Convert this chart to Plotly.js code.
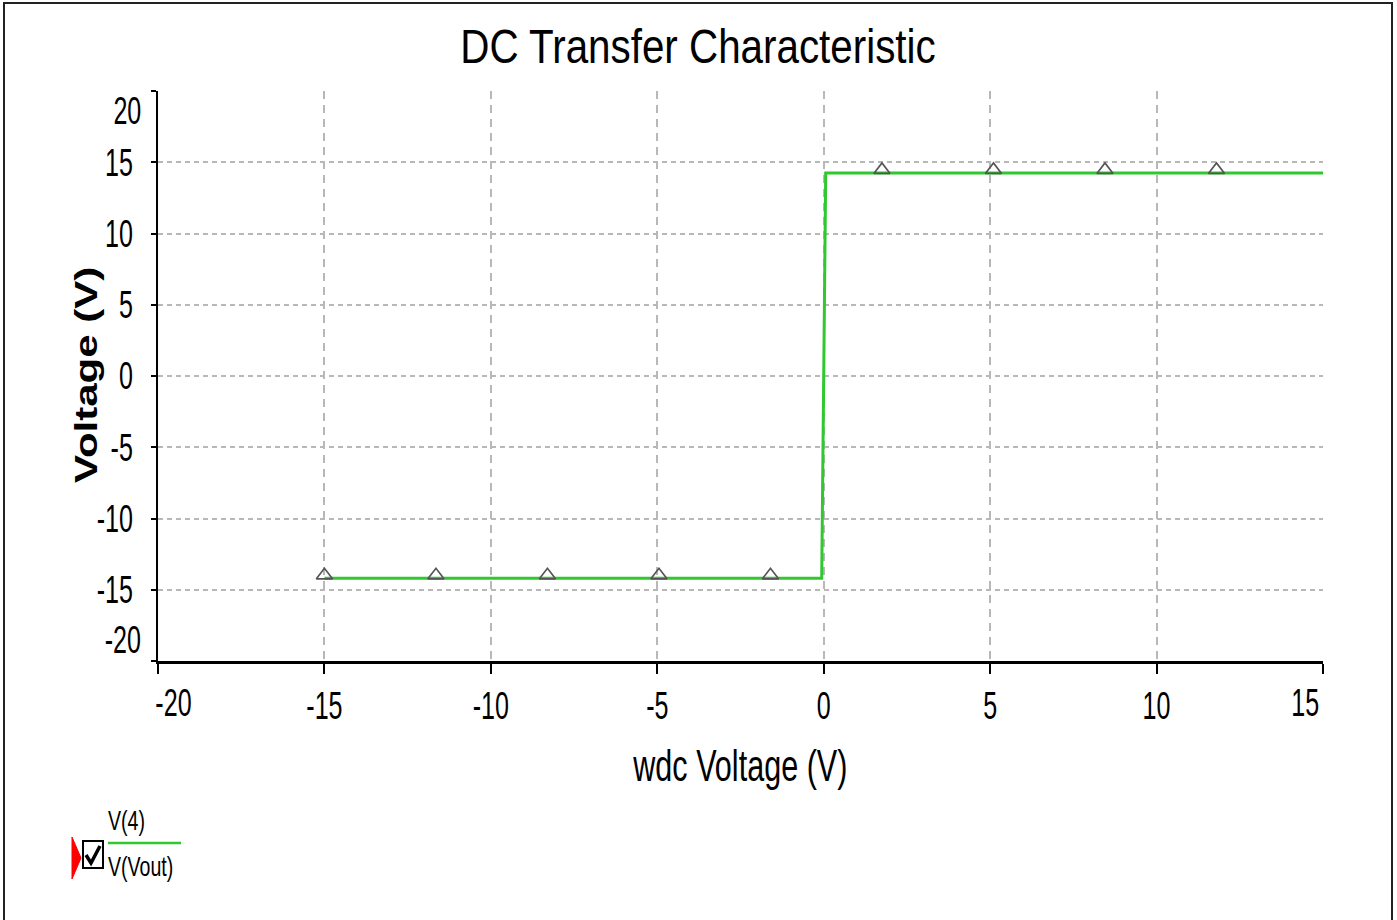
<!DOCTYPE html>
<html>
<head>
<meta charset="utf-8">
<script src="https://cdn.plot.ly/plotly-3.0.1.min.js"></script>
<style>html,body{margin:0;padding:0;background:#fff;}#chart{width:1397px;height:920px;}</style>
</head>
<body>
<div id="chart"></div>
<script>
// ---- data ----
const curveX = [-15, -0.06, 0.06, 15];
const curveY = [-14.2, -14.2, 14.25, 14.25];
const markerX = [-15, -11.65, -8.3, -4.95, -1.6, 1.75, 5.1, 8.45, 11.8];
const markerY = [-14.2, -14.2, -14.2, -14.2, -14.2, 14.25, 14.25, 14.25, 14.25];
const xTicks = [-20, -15, -10, -5, 0, 5, 10, 15];
const yTicks = [-20, -15, -10, -5, 0, 5, 10, 15, 20];
const legendTop = 'V(4)';
const legendBottom = 'V(Vout)';

const FONT = '"Liberation Sans", Arial, sans-serif';
const W = 1397, H = 920;
const L = 158, R = 1323, T = 91, B = 661;
const px = x => (x - L) / (R - L);
const py = y => (B - y) / (B - T);
const TICK = 38, TICKSQ = 0.66;

const xText = xTicks.map(v => (v === xTicks[0] || v === xTicks[xTicks.length-1]) ? '' : String(v));
const yText = yTicks.map(v => (v === yTicks[0] || v === yTicks[yTicks.length-1]) ? '' : String(v));

const traces = [
  {x: curveX, y: curveY, type: 'scatter', mode: 'lines',
   line: {color: '#2fc82f', width: 3}, hoverinfo: 'skip', showlegend: false},
  {x: markerX, y: markerY, type: 'scatter', mode: 'markers',
   marker: {symbol: 'triangle-down-open', angle: 180, standoff: 3, size: 14, color: '#555', line: {width: 1.7, color: '#555'}},
   hoverinfo: 'skip', showlegend: false}
];

const tf = {family: FONT, size: TICK, color: '#000'};
const annotations = [
  {xref: 'x', yref: 'paper', x: xTicks[0], y: 0, xshift: 15, yshift: -42, text: String(xTicks[0]), showarrow: false, font: tf, yanchor: 'middle'},
  {xref: 'x', yref: 'paper', x: xTicks[xTicks.length-1], y: 0, xshift: -18, yshift: -42, text: String(xTicks[xTicks.length-1]), showarrow: false, font: tf, yanchor: 'middle'},
  {xref: 'paper', yref: 'y', x: 0, y: yTicks[yTicks.length-1], xshift: -15, yshift: -20, text: String(yTicks[yTicks.length-1]), showarrow: false, font: tf, xanchor: 'right', align: 'right'},
  {xref: 'paper', yref: 'y', x: 0, y: yTicks[0], xshift: -15, yshift: 21, text: String(yTicks[0]), showarrow: false, font: tf, xanchor: 'right', align: 'right'},
  {xref: 'paper', yref: 'paper', x: px(106), y: py(820), text: legendTop, showarrow: false, xanchor: 'left', yanchor: 'middle', align: 'left', font: {family: FONT, size: 28, color: '#000'}},
  {xref: 'paper', yref: 'paper', x: px(106), y: py(866), text: legendBottom, showarrow: false, xanchor: 'left', yanchor: 'middle', align: 'left', font: {family: FONT, size: 28, color: '#000'}},
  {xref: 'paper', yref: 'paper', x: px(86), y: py(375), text: '<b>Voltage (V)</b>', textangle: -90, showarrow: false, xanchor: 'center', yanchor: 'middle', font: {family: FONT, size: 42, color: '#000'}}
];
// per-annotation horizontal/vertical squeeze (text-local)
const annSqueeze = [[TICKSQ,1],[TICKSQ,1],[TICKSQ,1],[TICKSQ,1],[0.7,1],[0.7,1],[1,0.75]];

const shapes = [
  {type: 'path', xref: 'paper', yref: 'paper',
   path: `M ${px(4)} ${py(930)} L ${px(4)} ${py(3)} L ${px(1392)} ${py(3)} L ${px(1392)} ${py(930)}`,
   line: {color: '#222', width: 2}},
  {type: 'path', xref: 'paper', yref: 'paper',
   path: `M ${px(72)} ${py(837)} L ${px(81)} ${py(858)} L ${px(72)} ${py(879)} Z`,
   fillcolor: '#ff0000', line: {color: '#ff0000', width: 1}},
  {type: 'rect', xref: 'paper', yref: 'paper', x0: px(83), x1: px(103), y0: py(841), y1: py(868),
   fillcolor: '#fff', line: {color: '#000', width: 2}},
  {type: 'path', xref: 'paper', yref: 'paper',
   path: `M ${px(86)} ${py(855)} L ${px(91)} ${py(863)} L ${px(100)} ${py(846)}`,
   line: {color: '#000', width: 3.5}},
  {type: 'line', xref: 'paper', yref: 'paper', x0: px(108), x1: px(181), y0: py(843), y1: py(843),
   line: {color: '#2fc82f', width: 2.5}}
];

const layout = {
  width: W, height: H,
  paper_bgcolor: '#fff', plot_bgcolor: '#fff',
  margin: {l: L, r: W - R, t: T, b: H - B, pad: 0},
  title: {text: 'DC Transfer Characteristic', font: {family: FONT, size: 49, color: '#000'},
          xref: 'paper', x: px(698), xanchor: 'center', yref: 'container', y: 1 - 46/920, yanchor: 'middle'},
  xaxis: {range: [-20, 15], tickvals: xTicks, ticktext: xText,
          showgrid: true, gridcolor: '#b8b8b8', gridwidth: 2, griddash: '8px,6px',
          zeroline: false, showline: true, linecolor: '#000', linewidth: 2.5,
          ticks: 'outside', ticklen: 10, tickwidth: 2, tickcolor: '#000',
          tickfont: tf, ticklabelstandoff: 0,
          title: {text: 'wdc Voltage (V)', font: {family: FONT, size: 44, color: '#000'}, standoff: 24},
          fixedrange: true},
  yaxis: {range: [-20, 20], tickvals: yTicks, ticktext: yText,
          showgrid: true, gridcolor: '#b8b8b8', gridwidth: 2, griddash: '5px,4px',
          zeroline: false, showline: true, linecolor: '#000', linewidth: 2.5,
          ticks: 'outside', ticklen: 5, tickwidth: 2, tickcolor: '#000',
          tickfont: tf, ticklabelstandoff: 10,
          fixedrange: true},
  annotations: annotations,
  shapes: shapes,
  showlegend: false
};

function squeezeText(t, sx, sy) {
  const bb = t.getBBox();
  const anchor = t.getAttribute('text-anchor') || 'start';
  const pxv = anchor === 'end' ? bb.x + bb.width : anchor === 'middle' ? bb.x + bb.width / 2 : bb.x;
  const pyv = bb.y + bb.height / 2;
  const tr = t.getAttribute('transform') || '';
  t.setAttribute('transform', tr + ` translate(${pxv},${pyv}) scale(${sx},${sy}) translate(${-pxv},${-pyv})`);
}

Plotly.newPlot('chart', traces, layout, {displayModeBar: false, staticPlot: true}).then(gd => {
  gd.querySelectorAll('.xtick text, .ytick text').forEach(t => squeezeText(t, TICKSQ, 1));
  gd.querySelectorAll('.gtitle').forEach(t => squeezeText(t, 0.824, 1));
  gd.querySelectorAll('.xtitle').forEach(t => squeezeText(t, 0.695, 1));
  gd.querySelectorAll('.annotation').forEach((a, i) => {
    const t = a.querySelector('text');
    if (t && annSqueeze[i]) squeezeText(t, annSqueeze[i][0], annSqueeze[i][1]);
  });
});
</script>
</body>
</html>
